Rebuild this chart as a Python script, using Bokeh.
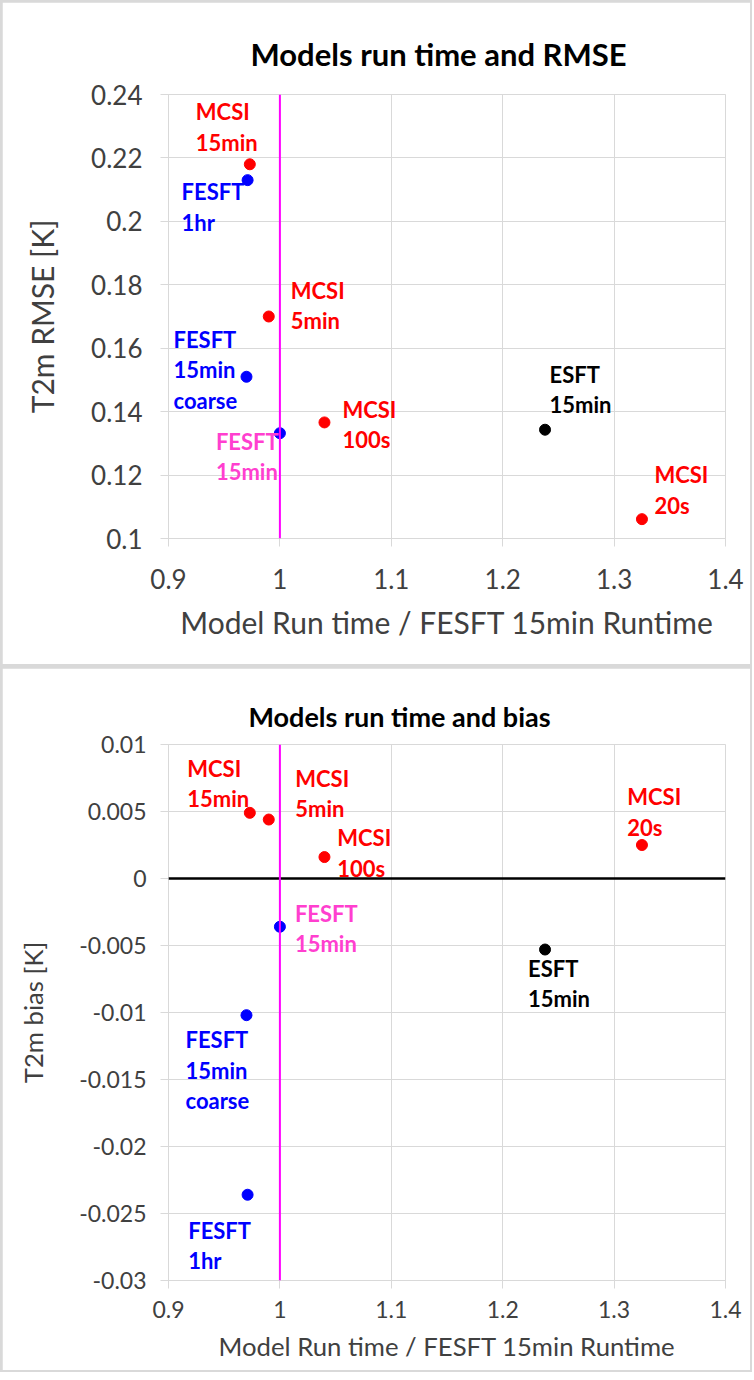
from bokeh.plotting import figure
from bokeh.models import Span, FixedTicker, ColumnDataSource
from bokeh.layouts import column
from bokeh.embed import file_html
from bokeh.resources import INLINE
from bokeh.core.properties import value

# ---------------- data ----------------
models = ["MCSI 15min", "FESFT 1hr", "MCSI 5min", "FESFT 15min coarse",
          "FESFT 15min", "MCSI 100s", "ESFT 15min", "MCSI 20s"]
point_labels = ["MCSI\n15min", "FESFT\n1hr", "MCSI\n5min", "FESFT\n15min\ncoarse",
                "FESFT\n15min", "MCSI\n100s", "ESFT\n15min", "MCSI\n20s"]
runtime_ratio = [0.973, 0.971, 0.990, 0.970, 1.000, 1.040, 1.238, 1.325]
rmse = [0.218, 0.213, 0.170, 0.151, 0.1332, 0.1366, 0.1343, 0.1061]
bias = [0.0049, -0.0236, 0.0044, -0.0102, -0.0036, 0.0016, -0.0053, 0.0025]
reference_ratio = 1.0

x_ticks = [0.9, 1.0, 1.1, 1.2, 1.3, 1.4]
x_tick_labels = ["0.9", "1", "1.1", "1.2", "1.3", "1.4"]
rmse_ticks = [0.1, 0.12, 0.14, 0.16, 0.18, 0.2, 0.22, 0.24]
rmse_tick_labels = ["0.1", "0.12", "0.14", "0.16", "0.18", "0.2", "0.22", "0.24"]
bias_ticks = [-0.03, -0.025, -0.02, -0.015, -0.01, -0.005, 0.0, 0.005, 0.01]
bias_tick_labels = ["-0.03", "-0.025", "-0.02", "-0.015", "-0.01", "-0.005", "0", "0.005", "0.01"]

# ---------------- styles ----------------
point_colors = ["#FF0000", "#0000FF", "#FF0000", "#0000FF", "#0000FF", "#FF0000", "#000000", "#FF0000"]
label_colors = ["#FF0000", "#0000FF", "#FF0000", "#0000FF", "#FF3FCF", "#FF0000", "#000000", "#FF0000"]
# label offsets in px (dx to left edge, dy to centre of first line)
top_dx = [-54, -66, 22, -73, -64, 18, 4.5, 12.5]
top_dy = [-52, 12, -26, -37, 8.5, -12.5, -55, -44]
bot_dx = [-62.6, -59.4, 26.5, -61, 15, 12.8, -17, -14.7]
bot_dy = [-44, 36, -41, 25, -13, -18.6, 19, -47.8]

FONT = "Lato"
GRID = "#d9d9d9"
AXIS_TEXT = "#404040"
LABEL_PX = 22
LINE_H = 1.125
LINE_STEP = 28


def style(p, xt, xl, yt, yl, tick_px, title_px, axis_px):
    p.xaxis.ticker = FixedTicker(ticks=xt)
    p.xaxis.major_label_overrides = dict(zip(xt, xl))
    p.yaxis.ticker = FixedTicker(ticks=yt)
    p.yaxis.major_label_overrides = dict(zip(yt, yl))
    for ax in (p.xaxis, p.yaxis):
        ax.axis_line_color = GRID
        ax.major_tick_line_color = GRID
        ax.major_tick_out = 8
        ax.major_tick_in = 0
        ax.minor_tick_line_color = None
        ax.major_label_text_font = FONT
        ax.major_label_text_font_size = f"{tick_px}px"
        ax.major_label_text_color = AXIS_TEXT
        ax.axis_label_text_font = FONT
        ax.axis_label_text_font_size = f"{axis_px}px"
        ax.axis_label_text_font_style = "normal"
        ax.axis_label_text_color = AXIS_TEXT
    p.grid.grid_line_color = GRID
    p.outline_line_color = GRID
    p.title.text_font = FONT
    p.title.text_font_size = f"{title_px}px"
    p.title.text_font_style = "bold"
    p.title.text_color = "#000000"
    p.title.align = "left"


def add_points(p, ys, dx, dy):
    src = ColumnDataSource(dict(
        x=runtime_ratio, y=ys, label=point_labels, pc=point_colors, lc=label_colors,
        dx=dx, dy=[d - LINE_STEP / 2 for d in dy], model=models))
    p.add_layout(Span(location=reference_ratio, dimension="height",
                      line_color="#FF00FF", line_width=2))
    p.scatter("x", "y", source=src, size=11, color="pc", line_color="pc")
    p.text("x", "y", text="label", source=src, x_offset="dx", y_offset="dy",
           text_color="lc", text_font=value(FONT), text_font_style="bold",
           text_font_size=f"{LABEL_PX}px", text_align="left", text_baseline="top",
           text_line_height=LINE_H)


# ---------------- top chart ----------------
p1 = figure(width=748, height=662, x_range=(0.9, 1.4), y_range=(0.1, 0.24),
            output_backend="svg", toolbar_location=None,
            title="Models run time and RMSE",
            x_axis_label="Model Run time / FESFT 15min Runtime",
            y_axis_label="T2m RMSE [K]",
            min_border_left=166, min_border_right=25, min_border_top=92, min_border_bottom=126,
            margin=(2, 2, 2, 2))
style(p1, x_ticks, x_tick_labels, rmse_ticks, rmse_tick_labels, 26, 31, 30)
p1.title.offset = 82
p1.title.standoff = 44
p1.xaxis.major_label_standoff = 22
p1.yaxis.major_label_standoff = 18
p1.xaxis.axis_label_standoff = 12
p1.yaxis.axis_label_standoff = 28
add_points(p1, rmse, top_dx, top_dy)

# ---------------- bottom chart ----------------
p2 = figure(width=748, height=702, x_range=(0.9, 1.4), y_range=(-0.03, 0.01),
            output_backend="svg", toolbar_location=None,
            title="Models run time and bias",
            x_axis_label="Model Run time / FESFT 15min Runtime",
            y_axis_label="T2m bias [K]",
            min_border_left=160, min_border_right=24, min_border_top=76, min_border_bottom=90,
            margin=(2, 2, 2, 2))
style(p2, x_ticks, x_tick_labels, bias_ticks, bias_tick_labels, 23, 27, 25.7)
p2.title.offset = 80
p2.title.standoff = 23
p2.xaxis.major_label_standoff = 12
p2.yaxis.major_label_standoff = 14
p2.xaxis.axis_label_standoff = 10
p2.yaxis.axis_label_standoff = 28
p2.add_layout(Span(location=0, dimension="width", line_color="#000000", line_width=2.5))
add_points(p2, bias, bot_dx, bot_dy)

layout = column(p1, p2, spacing=0, styles={"background-color": "#d9d9d9"})
open("out.html", "w").write(file_html(layout, INLINE))
